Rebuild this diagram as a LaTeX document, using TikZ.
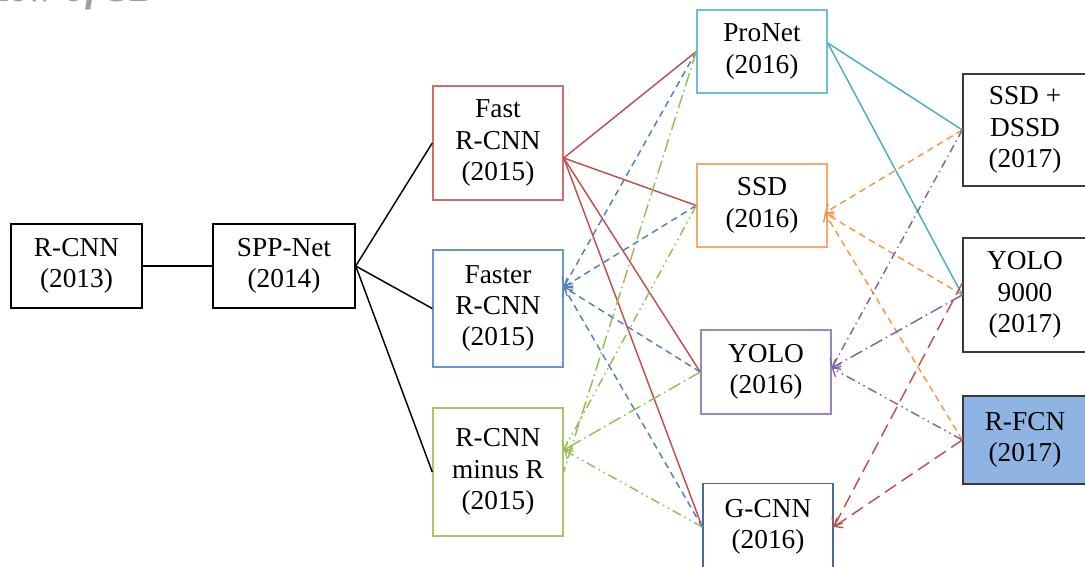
\documentclass[tikz,border=0pt]{standalone}
\usepackage{fontspec}
\setmainfont{Liberation Serif}
\usetikzlibrary{arrows.meta,calc}

% line colours
\definecolor{lnRed}{HTML}{C0504D}
\definecolor{lnBlue}{HTML}{4F81BD}
\definecolor{lnGreen}{HTML}{9BBB59}
\definecolor{lnCyan}{HTML}{4BACC6}
\definecolor{lnOrange}{HTML}{F79646}
\definecolor{lnPurple}{HTML}{8064A2}
% box outlines
\definecolor{bdRed}{HTML}{D06E6B}
\definecolor{bdBlue}{HTML}{6A96D0}
\definecolor{bdGreen}{HTML}{A9C76A}
\definecolor{bdCyan}{HTML}{6CC0D6}
\definecolor{bdOrange}{HTML}{F9AA6A}
\definecolor{bdPurple}{HTML}{9A84BC}
\definecolor{bdSteel}{HTML}{47699B}
\definecolor{bdDark}{HTML}{3A3A3A}
\definecolor{fillRFCN}{HTML}{8DB4E2}

\begin{document}
\begin{tikzpicture}[x=0.75pt,y=-0.75pt,
  box/.style={draw, line width=1.1pt, fill=white, align=center, inner sep=0pt,
    minimum width=97.5pt, font=\fontsize{20.5}{23.5}\selectfont},
  link/.style={line width=1.1pt},
  tip/.style={-{Straight Barb[length=5pt,width=9pt,line width=1pt]}},
  shortdash/.style={dash pattern=on 5pt off 3.5pt},
  longdash/.style={dash pattern=on 10pt off 5pt},
  dashdot/.style={dash pattern=on 6pt off 3pt on 1pt off 3pt},
  longdashdot/.style={dash pattern=on 10pt off 3pt on 1.2pt off 3pt},
  dashdotdot/.style={dash pattern=on 7pt off 3pt on 1.2pt off 3pt on 1.2pt off 3pt},
]
\useasboundingbox (0,0) rectangle (1085,567);

% heading, mostly above the page edge
\node[anchor=base east, inner sep=0pt, text=black!38,
  font=\fontsize{30}{30}\bfseries\itshape\selectfont] (heading) at (160,1.5) {view of SD};

% 2013--2014
\node[box, draw=black, minimum width=98.25pt, minimum height=63pt] (rcnn) at (76.5,266) {R-CNN\\(2013)};
\node[box, draw=black, minimum width=106.5pt, minimum height=63pt] (spp) at (284,266) {SPP-Net\\(2014)};

% 2015
\node[box, draw=bdRed, minimum height=85.5pt] (fast) at (498,143) {Fast\\R-CNN\\(2015)};
\node[box, draw=bdBlue, minimum height=87.75pt] (faster) at (498,308.5) {Faster\\R-CNN\\(2015)};
\node[box, draw=bdGreen, minimum height=96pt] (minusr) at (498,472) {R-CNN\\minus R\\(2015)};

% 2016
\node[box, draw=bdCyan, minimum height=62.25pt] (pronet) at (762,51.5) {ProNet\\(2016)};
\node[box, draw=bdOrange, minimum height=62.25pt] (ssd) at (762,205.5) {SSD\\(2016)};
\node[box, draw=bdPurple, minimum height=63pt] (yolo) at (766,372) {YOLO\\(2016)};
\node[box, draw=bdSteel, minimum height=65pt] (gcnn) at (768,527) {G-CNN\\(2016)};

% 2017
\node[box, draw=bdDark, minimum width=93pt, minimum height=84pt] (dssd) at (1025,130) {SSD +\\DSSD\\(2017)};
\node[box, draw=bdDark, minimum width=93pt, minimum height=85.5pt] (y9k) at (1025,295) {YOLO\\9000\\(2017)};
\node[box, draw=bdDark, fill=fillRFCN, minimum width=93pt, minimum height=66pt] (rfcn) at (1025,440) {R-FCN\\(2017)};

% connection points on the box edges
\coordinate (fastOut)   at ($(fast.east)+(0,15)$);
\coordinate (fasterIn)  at ($(faster.east)+(0,-21.5)$);
\coordinate (minusIn)   at ($(minusr.east)+(0,-22)$);
\coordinate (pronetOut) at ($(pronet.east)+(0,-8.5)$);
\coordinate (ssdIn)     at ($(ssd.east)+(-3,7.5)$);
\coordinate (yoloIn)    at ($(yolo.east)+(0,-4)$);
\coordinate (y9kOut)    at ($(y9k.west)+(0,-12)$);

% early lineage
\draw[link] (rcnn.east) -- (spp.west);
\draw[link] (spp.east) -- (fast.west);
\draw[link] (spp.east) -- (faster.west);
\draw[link] (spp.east) -- (minusr.west);

% Fast R-CNN to the 2016 models
\draw[link, lnRed] (fastOut) -- (pronet.west);
\draw[link, lnRed] (fastOut) -- (ssd.west);
\draw[link, lnRed] (fastOut) -- (yolo.west);
\draw[link, lnRed] (fastOut) -- (gcnn.west);

% 2016 models back to Faster R-CNN
\draw[link, lnBlue, shortdash, tip] (pronet.west) -- (fasterIn);
\draw[link, lnBlue, shortdash, tip] (ssd.west) -- (fasterIn);
\draw[link, lnBlue, shortdash, tip] (yolo.west) -- (fasterIn);
\draw[link, lnBlue, shortdash, tip] (gcnn.west) -- (fasterIn);

% 2016 models back to R-CNN minus R
\draw[link, lnGreen, longdashdot] (pronet.west) -- (minusr.east);
\draw[link, lnGreen, dashdotdot, tip] (ssd.west) -- (minusIn);
\draw[link, lnGreen, longdashdot, tip] (yolo.west) -- (minusIn);
\draw[link, lnGreen, dashdotdot, tip] (gcnn.west) -- (minusIn);

% ProNet to the 2017 models
\draw[link, lnCyan] (pronetOut) -- (dssd.west);
\draw[link, lnCyan] (pronetOut) -- (y9k.west);

% 2017 models back to SSD
\draw[link, lnOrange, shortdash, tip] (dssd.west) -- (ssdIn);
\draw[link, lnOrange, shortdash, tip] (y9k.west) -- (ssdIn);
\draw[link, lnOrange, shortdash, tip] (rfcn.west) -- (ssdIn);

% 2017 models back to YOLO
\draw[link, lnPurple, dashdot, tip] (dssd.west) -- (yoloIn);
\draw[link, lnPurple, longdashdot, tip] (y9k.west) -- (yoloIn);
\draw[link, lnPurple, dashdotdot, tip] (rfcn.west) -- (yoloIn);

% 2017 models back to G-CNN
\draw[link, lnRed, longdash, tip] (y9kOut) -- (gcnn.east);
\draw[link, lnRed, longdash, tip] (rfcn.west) -- (gcnn.east);
\end{tikzpicture}
\end{document}
